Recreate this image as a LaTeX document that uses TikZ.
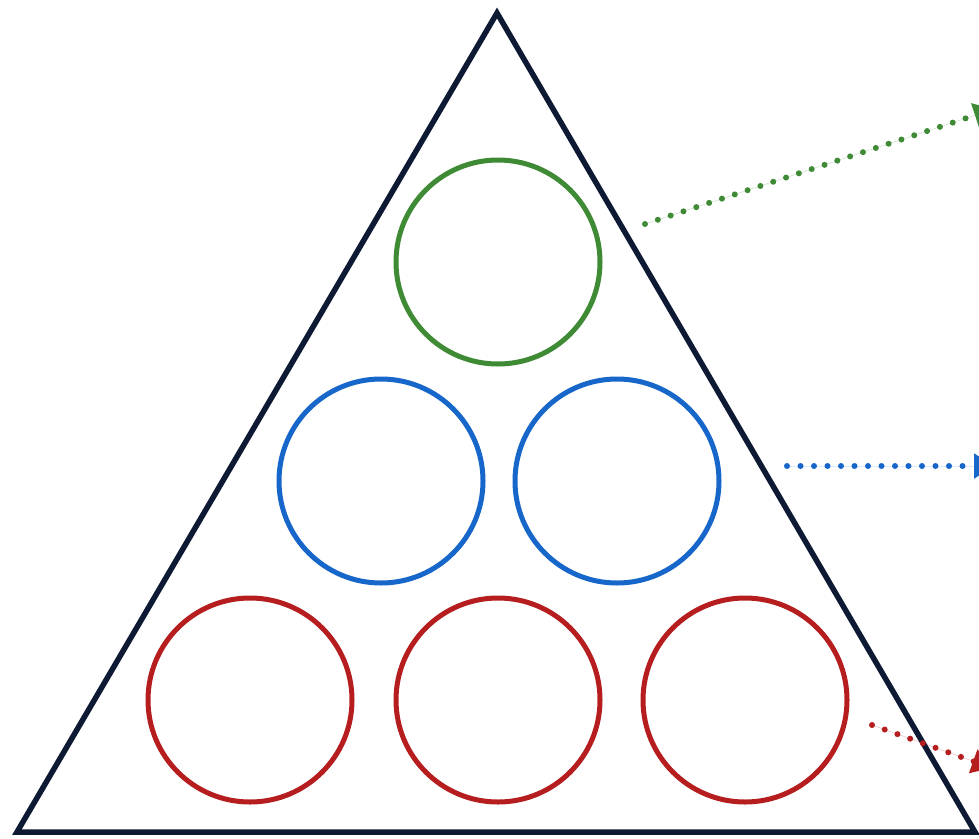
\documentclass[tikz,border=0pt]{standalone}
\usetikzlibrary{arrows.meta}
\definecolor{navy}{HTML}{0E1A33}
\definecolor{cgreen}{HTML}{3F8A35}
\definecolor{cblue}{HTML}{1766C9}
\definecolor{cred}{HTML}{B51D1E}
\begin{document}
\begin{tikzpicture}[x=1pt,y=-1pt,
  ball/.style={circle,draw,line width=5pt,minimum size=204pt,inner sep=0pt},
  dotarrow/.style={line width=6pt,line cap=round,dash pattern=on 0pt off 13.5pt,
    -{Triangle[length=20pt,width=24pt,line cap=butt]}}]
\useasboundingbox (0,0) rectangle (979,838);
\fill[white] (0,0) rectangle (979,838);
\draw[navy,line width=5.5pt,line join=miter] (497,13) -- (975,832) -- (17,832) -- cycle;
\node[ball,draw=cgreen] (g) at (498,262) {};
\node[ball,draw=cblue] (b1) at (381,481) {};
\node[ball,draw=cblue] (b2) at (617,481) {};
\node[ball,draw=cred] (r1) at (250,700) {};
\node[ball,draw=cred] (r2) at (498,700) {};
\node[ball,draw=cred] (r3) at (745,700) {};
\coordinate (gs) at (645,224);
\coordinate (ge) at (994,109);
\coordinate (bs) at (787,466);
\coordinate (be) at (994,466);
\coordinate (rs) at (872,725);
\coordinate (re) at (992,768);
\draw[dotarrow,draw=cgreen,fill=cgreen] (gs) -- (ge);
\draw[dotarrow,draw=cblue,fill=cblue] (bs) -- (be);
\draw[dotarrow,draw=cred,fill=cred] (rs) -- (re);
\end{tikzpicture}
\end{document}
